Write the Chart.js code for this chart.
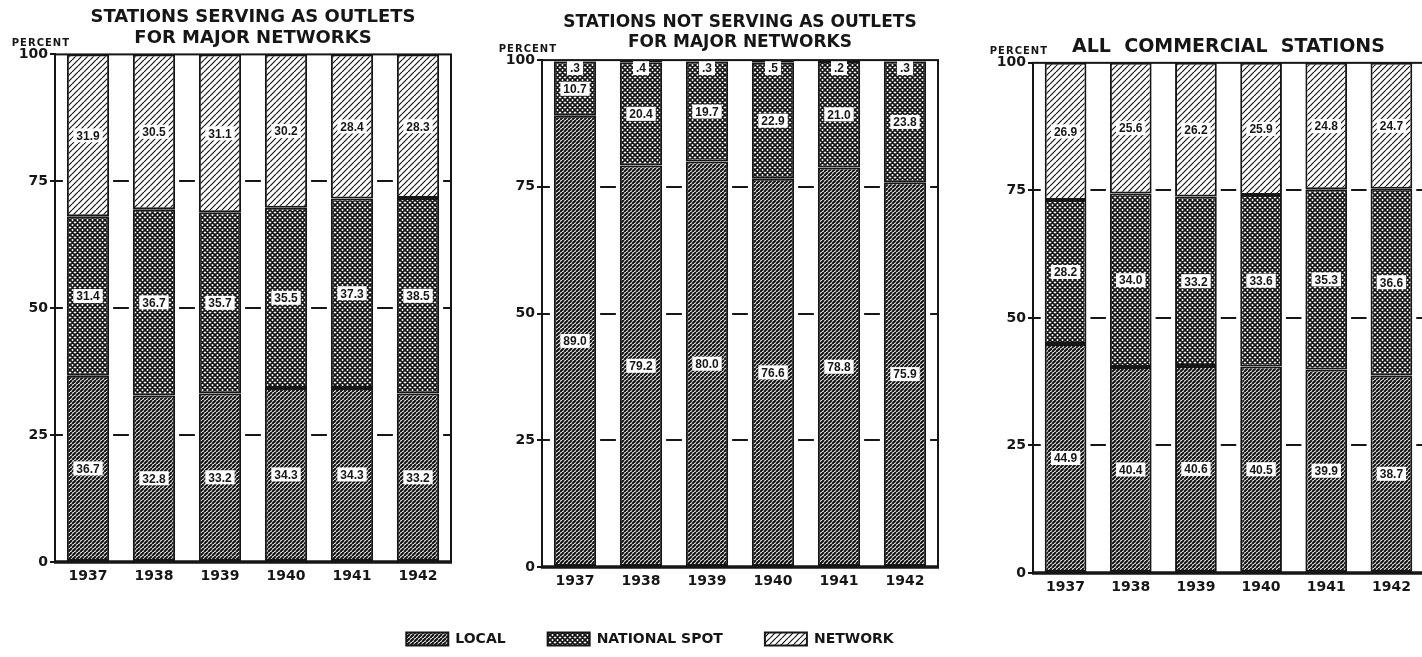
<!DOCTYPE html>
<html>
<head>
<meta charset="utf-8">
<script src="https://cdn.jsdelivr.net/npm/chart.js@4/dist/chart.umd.min.js"></script>
<style>
  body { margin: 0; background: #fff; overflow: hidden; width: 1422px; height: 657px; position: relative; }
  canvas { position: absolute; }
</style>
</head>
<body>
<canvas id="outlets" width="480" height="600" style="left:0;top:0"></canvas>
<canvas id="nonOutlets" width="480" height="600" style="left:480px;top:0"></canvas>
<canvas id="allStations" width="480" height="600" style="left:960px;top:0"></canvas>
<canvas id="legend" width="720" height="120" style="left:290px;top:590px"></canvas>
<script>
// percent of time sales by source, per year
const years = ['1937', '1938', '1939', '1940', '1941', '1942'];
const yTicks = [0, 25, 50, 75, 100];

const outletLocal = [36.7, 32.8, 33.2, 34.3, 34.3, 33.2];
const outletSpot = [31.4, 36.7, 35.7, 35.5, 37.3, 38.5];
const outletNetwork = [31.9, 30.5, 31.1, 30.2, 28.4, 28.3];

const nonOutletLocal = [89.0, 79.2, 80.0, 76.6, 78.8, 75.9];
const nonOutletSpot = [10.7, 20.4, 19.7, 22.9, 21.0, 23.8];
const nonOutletNetwork = [0.3, 0.4, 0.3, 0.5, 0.2, 0.3];

const allLocal = [44.9, 40.4, 40.6, 40.5, 39.9, 38.7];
const allSpot = [28.2, 34.0, 33.2, 33.6, 35.3, 36.6];
const allNetwork = [26.9, 25.6, 26.2, 25.9, 24.8, 24.7];

const INK = '#161616';
const FONT = '"DejaVu Sans", sans-serif';

// hatch fills
function makePattern(size, lineWidth, dirs) {
    const c = document.createElement('canvas');
    c.width = size; c.height = size;
    const g = c.getContext('2d');
    g.fillStyle = '#fff';
    g.fillRect(0, 0, size, size);
    g.strokeStyle = INK;
    g.lineWidth = lineWidth;
    g.beginPath();
    for (const k of [-size, 0, size]) {
        if (dirs.includes('/')) { g.moveTo(k, size); g.lineTo(k + size, 0); }
        if (dirs.includes('\\')) { g.moveTo(k, 0); g.lineTo(k + size, size); }
    }
    g.stroke();
    return g.createPattern(c, 'repeat');
}
const localFill = makePattern(4, 2.2, '/');
const spotFill = makePattern(5, 1.8, '/\\');
const networkFill = makePattern(6, 1.2, '/');

function fmt(v) {
    return v < 1 ? String(v).replace(/^0/, '') : v.toFixed(1);
}

// white gap around each bar so the grid shows as dashes
const barGaps = {
    id: 'barGaps',
    beforeDatasetsDraw(chart) {
        const { top, bottom } = chart.chartArea;
        const ctx = chart.ctx;
        ctx.save();
        ctx.fillStyle = '#fff';
        chart.getDatasetMeta(0).data.forEach(bar => {
            ctx.fillRect(bar.x - bar.width / 2 - 4, top + 2, bar.width + 8, bottom - top - 4);
        });
        ctx.restore();
    }
};

const valueLabels = {
    id: 'valueLabels',
    afterDatasetsDraw(chart) {
        const ctx = chart.ctx;
        const top = chart.chartArea.top;
        ctx.save();
        ctx.font = 'bold 12px "Liberation Sans", sans-serif';
        ctx.textAlign = 'center';
        ctx.textBaseline = 'middle';
        chart.data.datasets.forEach((ds, i) => {
            chart.getDatasetMeta(i).data.forEach((bar, j) => {
                const t = fmt(ds.data[j]);
                const cy = Math.max((bar.y + bar.base) / 2, top + 8);
                const w = ctx.measureText(t).width + 6;
                ctx.fillStyle = '#fff';
                ctx.fillRect(bar.x - w / 2, cy - 7, w, 14);
                ctx.fillStyle = INK;
                ctx.fillText(t, bar.x, cy + 1);
            });
        });
        ctx.restore();
    }
};

const frame = {
    id: 'frame',
    afterDatasetsDraw(chart) {
        const { left, right, top, bottom } = chart.chartArea;
        const ctx = chart.ctx;
        ctx.save();
        ctx.strokeStyle = INK;
        ctx.lineWidth = 2;
        ctx.strokeRect(left, top, right - left, bottom - top);
        ctx.lineWidth = 3.5;
        ctx.beginPath();
        ctx.moveTo(left - 1, bottom);
        ctx.lineTo(right + 1, bottom);
        ctx.stroke();
        // "PERCENT" over the value axis
        ctx.fillStyle = INK;
        ctx.font = 'bold 10px ' + FONT;
        ctx.letterSpacing = '1px';
        ctx.textAlign = 'right';
        ctx.textBaseline = 'middle';
        ctx.fillText('PERCENT', left + 15, top - 11);
        ctx.restore();
    }
};

function datasets(local, spot, network) {
    const common = { borderColor: INK, borderWidth: 2, borderSkipped: false, barPercentage: 0.64, categoryPercentage: 1 };
    return [
        { label: 'LOCAL', data: local, backgroundColor: localFill, ...common },
        { label: 'NATIONAL SPOT', data: spot, backgroundColor: spotFill, ...common },
        { label: 'NETWORK', data: network, backgroundColor: networkFill, ...common }
    ];
}

function makeChart(id, title, local, spot, network, lay) {
    return new Chart(document.getElementById(id), {
        type: 'bar',
        data: { labels: years, datasets: datasets(local, spot, network) },
        plugins: [barGaps, valueLabels, frame],
        options: {
            responsive: false,
            animation: false,
            layout: { padding: { left: 0, right: lay.padRight, top: 0, bottom: 0 } },
            plugins: {
                legend: { display: false },
                tooltip: { enabled: false },
                title: {
                    display: true,
                    fullSize: false,
                    text: title,
                    color: INK,
                    font: { family: FONT, size: lay.titleSize, weight: 'bold', lineHeight: 1.15 },
                    padding: { top: lay.titleTop, bottom: lay.titleBottom }
                }
            },
            scales: {
                x: {
                    stacked: true,
                    grid: { display: false, drawTicks: false },
                    border: { display: false },
                    ticks: { color: INK, font: { family: FONT, size: 14, weight: 'bold' }, padding: 6 },
                    afterFit: s => { s.height = lay.xHeight; }
                },
                y: {
                    stacked: true,
                    min: 0,
                    max: 100,
                    afterBuildTicks: s => { s.ticks = yTicks.map(v => ({ value: v })); },
                    grid: {
                        color: c => (c.tick && c.tick.value > 0 && c.tick.value < 100) ? INK : 'rgba(0,0,0,0)',
                        tickColor: INK,
                        lineWidth: 2,
                        tickLength: 5
                    },
                    border: { color: INK, width: 2 },
                    ticks: { color: INK, font: { family: FONT, size: 14, weight: 'bold' }, padding: 2 },
                    afterFit: s => { s.width = lay.yWidth; }
                }
            }
        }
    });
}

makeChart('outlets', ['STATIONS SERVING AS OUTLETS', 'FOR MAJOR NETWORKS'],
    outletLocal, outletSpot, outletNetwork,
    { yWidth: 55, padRight: 29, xHeight: 38, titleSize: 18, titleTop: 7, titleBottom: 6 });
makeChart('nonOutlets', ['STATIONS NOT SERVING AS OUTLETS', 'FOR MAJOR NETWORKS'],
    nonOutletLocal, nonOutletSpot, nonOutletNetwork,
    { yWidth: 62, padRight: 22, xHeight: 33, titleSize: 17, titleTop: 13, titleBottom: 8 });
makeChart('allStations', 'ALL  COMMERCIAL  STATIONS',
    allLocal, allSpot, allNetwork,
    { yWidth: 73, padRight: 16, xHeight: 27, titleSize: 19, titleTop: 36, titleBottom: 5 });

// shared key
new Chart(document.getElementById('legend'), {
    type: 'bar',
    data: { labels: [], datasets: datasets([], [], []) },
    options: {
        responsive: false,
        animation: false,
        scales: { x: { display: false }, y: { display: false } },
        plugins: {
            tooltip: { enabled: false },
            legend: {
                position: 'top',
                maxHeight: 110,
                labels: {
                    boxWidth: 42,
                    boxHeight: 13,
                    padding: 42,
                    color: INK,
                    font: { family: FONT, size: 14, weight: 'bold' }
                }
            }
        }
    }
});
</script>
</body>
</html>
